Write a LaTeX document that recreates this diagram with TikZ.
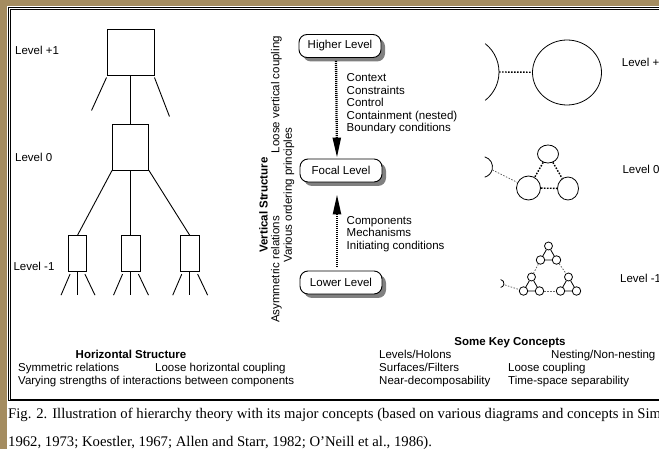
\documentclass[tikz,border=0pt]{standalone}
\usepackage{fontspec}
\setmainfont{Liberation Serif}
\setsansfont{Liberation Sans}
\usetikzlibrary{arrows.meta,shadows,shapes.geometric}

\definecolor{woodbrown}{RGB}{164,140,96}

\tikzset{
  every node/.style={font=\sffamily\fontsize{11.5}{12.5}\selectfont, inner sep=0pt},
  boldtext/.style={font=\sffamily\bfseries\fontsize{11.5}{12.5}\selectfont},
  captiontext/.style={font=\rmfamily\fontsize{14.7}{17}\selectfont},
  treebox/.style={draw, line width=0.9pt},
  treeleg/.style={line width=0.9pt},
  levelbox/.style={draw, line width=0.9pt, fill=white, rounded corners=8pt,
    minimum width=82pt, minimum height=23pt,
    drop shadow={shadow xshift=4pt, shadow yshift=-4pt, fill=black!50, opacity=1}},
  flow/.style={line width=2.3pt, dash pattern=on 1pt off 1pt,
    -{Triangle[width=8pt,length=20pt]}},
  holon/.style={draw, line width=0.8pt},
  coupling/.style={line width=1.4pt, dash pattern=on 1.6pt off 1.4pt},
  weaklink/.style={line width=0.8pt, black!60, dash pattern=on 1.5pt off 1.5pt}
}

\begin{document}
\begin{tikzpicture}[x=1pt,y=-1pt]

    % page, wooden edge and double frame
    \useasboundingbox (0,0) rectangle (659,449);
    \fill[white] (0,0) rectangle (659,449);
    \fill[woodbrown] (0,0) rectangle (659,6.5);
    \fill[woodbrown] (0,0) rectangle (7,449);
    \draw[line width=0.9pt] (8.5,7.5) rectangle (680,400.5);
    \draw[line width=0.8pt] (10.5,9.5) rectangle (680,399);

    % the tree of the horizontal structure
    \node[treebox, minimum width=47pt, minimum height=46pt] (upper) at (130.5,52) {};
    \node[treebox, minimum width=36pt, minimum height=46pt] (middle) at (130.5,147) {};
    \node[treebox, minimum width=18pt, minimum height=36pt] (leafa) at (77.5,253.7) {};
    \node[treebox, minimum width=19pt, minimum height=36pt] (leafb) at (130.5,253.7) {};
    \node[treebox, minimum width=19pt, minimum height=36pt] (leafc) at (189.7,253.7) {};

    \draw[treeleg] ([yshift=-2pt]upper.south west) -- ++(-15,33) coordinate (upperl);
    \draw[treeleg] ([yshift=-2pt]upper.south east) -- ++(15,39) coordinate (upperr);
    \draw[treeleg] (upper.south) -- (middle.north);
    \draw[treeleg] (middle.south west) -- (leafa.north);
    \draw[treeleg] (middle.south) -- (leafb.north);
    \draw[treeleg] (middle.south east) -- (leafc.north);
    \foreach \leaf in {leafa,leafb,leafc} {
        \draw[treeleg] ([xshift=2pt,yshift=-2pt]\leaf.south west) -- ++(-9,21) coordinate (\leaf-l);
        \draw[treeleg] (\leaf.south) -- ++(0,23) coordinate (\leaf-m);
        \draw[treeleg] ([xshift=-2pt,yshift=-2pt]\leaf.south east) -- ++(10,21) coordinate (\leaf-r);
    }

    \node[anchor=base west] (lplus) at (15,55) {Level +1};
    \node[anchor=base west] (lzero) at (15,162) {Level 0};
    \node[anchor=base west] (lminus) at (13.3,271) {Level -1};

    % vertical structure
    \node[levelbox] (higher) at (340,46) {Higher Level};
    \node[levelbox] (focal) at (341,170.5) {Focal Level};
    \node[levelbox] (lower) at (341,282.5) {Lower Level};

    \draw[flow, shorten <=3pt, shorten >=1pt] ([xshift=-4pt]higher.south) -- ([xshift=-4pt]focal.north);
    \draw[flow, shorten <=4pt, shorten >=12pt] ([xshift=-4pt]lower.north) -- ([xshift=-4pt]focal.south);

    \node[anchor=north west, align=left] (fromabove) at (346.5,73.3)
        {Context\\Constraints\\Control\\Containment (nested)\\Boundary conditions};
    \node[anchor=north west, align=left] (frombelow) at (346.5,216)
        {Components\\Mechanisms\\Initiating conditions};

    \node[boldtext, rotate=90] (vtitle) at (263.5,205) {Vertical Structure};
    \node[rotate=90] (vrel) at (276.5,179.5) {Asymmetric relations\hspace{63pt}Loose vertical coupling};
    \node[rotate=90] (vorder) at (289,195) {Various ordering principles};

    % holons, level +1
    \node[holon, ellipse, minimum width=69pt, minimum height=65pt] (bigholon) at (567,72.5) {};
    \draw[holon] (463,72) ++(-52:36) arc[start angle=-52, end angle=52, radius=36];
    \coordinate (edgeplus) at (499,72);
    \draw[coupling] (edgeplus) -- (bigholon);

    % holons, level 0
    \node[holon, ellipse, minimum width=21pt, minimum height=18pt] (zerotop) at (548,154) {};
    \node[holon, circle, minimum size=24pt] (zeroleft) at (528.5,188) {};
    \node[holon, ellipse, minimum width=21pt, minimum height=23pt] (zeroright) at (568,188.5) {};
    \draw[holon] (482,167) ++(-75:10.5) arc[start angle=-75, end angle=75, radius=10.5];
    \coordinate (edgezero) at (492.5,170);
    \draw[weaklink] (edgezero) -- (zeroleft);
    \draw[coupling] (zerotop) -- (zeroleft);
    \draw[coupling] (zerotop) -- (zeroright);
    \draw[coupling] (zeroleft) -- (zeroright);

    % holons, level -1
    \foreach \g/\cx/\cy in {t/548.5/260, l/531.5/291, r/568.5/291} {
        \node[holon, circle, minimum size=8pt] (\g-top) at (\cx,\cy-14) {};
        \node[holon, circle, minimum size=8.5pt] (\g-left) at (\cx-8,\cy) {};
        \node[holon, circle, minimum size=8.5pt] (\g-right) at (\cx+8,\cy) {};
        \draw[holon] (\g-top) -- (\g-left) (\g-top) -- (\g-right) (\g-left) -- (\g-right);
    }
    \draw[holon] (500,283.5) ++(-80:4) arc[start angle=-80, end angle=80, radius=4];
    \coordinate (edgeminus) at (505,285);
    \draw[weaklink] (edgeminus) -- (l-left);
    \draw[weaklink] (t-left) -- (l-top);
    \draw[weaklink] (t-right) -- (r-top);
    \draw[weaklink] (l-right) -- (r-left);

    \node[anchor=base west] (rplus) at (621.7,67) {Level +1};
    \node[anchor=base west] (rzero) at (622.3,174) {Level 0};
    \node[anchor=base west] (rminus) at (620,283) {Level -1};

    % horizontal structure and key concepts
    \node[boldtext, anchor=base] (htitle) at (131,358.5) {Horizontal Structure};
    \node[anchor=base west] (hsym) at (18,371.5) {Symmetric relations};
    \node[anchor=base west] (hloose) at (155,371.5) {Loose horizontal coupling};
    \node[anchor=base west] (hvary) at (18,384.5) {Varying strengths of interactions between components};

    \node[boldtext, anchor=base] (ktitle) at (510,345.5) {Some Key Concepts};
    \node[anchor=base west] (klevels) at (379,358.5) {Levels/Holons};
    \node[anchor=base west] (knest) at (551,358.5) {Nesting/Non-nesting};
    \node[anchor=base west] (ksurf) at (379,371.5) {Surfaces/Filters};
    \node[anchor=base west] (kloose) at (508,371.5) {Loose coupling};
    \node[anchor=base west] (knear) at (379,384.5) {Near-decomposability};
    \node[anchor=base west] (ktime) at (508,384.5) {Time-space separability};

    % caption
    \node[captiontext, anchor=base west] (capone) at (8,418)
        {Fig. 2. Illustration of hierarchy theory with its major concepts (based on various diagrams and concepts in Simon,};
    \node[captiontext, anchor=base west] (captwo) at (8,446)
        {1962, 1973; Koestler, 1967; Allen and Starr, 1982; O’Neill et al., 1986).};

\end{tikzpicture}
\end{document}
